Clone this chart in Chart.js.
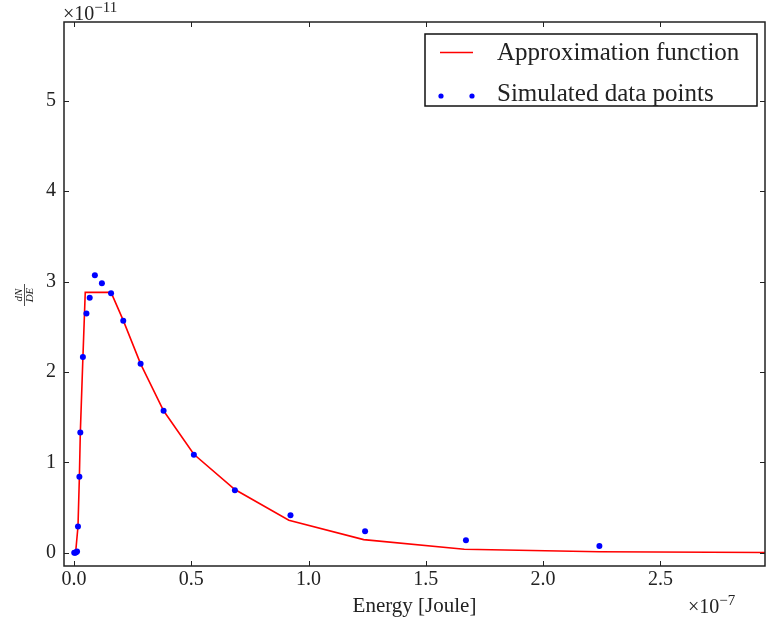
<!DOCTYPE html>
<html>
<head>
<meta charset="utf-8">
<title>Energy spectrum</title>
<script src="https://cdn.jsdelivr.net/npm/chart.js@4/dist/chart.umd.min.js"></script>
<style>
    html, body { margin: 0; padding: 0; background: #fff; }
    #wrap { width: 766px; height: 623px; position: relative; }
</style>
</head>
<body>
<div id="wrap"><canvas id="chart"></canvas></div>
<script>
// energy in units of 1e-7 J, dN/dE in units of 1e-11
const fitEnergy = [0.000, 0.007, 0.017, 0.023, 0.027, 0.038, 0.048, 0.158, 0.210, 0.284, 0.382, 0.511, 0.686, 0.916, 1.235, 1.664, 2.240, 2.950];
const fitValues = [0.000, 0.005, 0.290, 0.840, 1.330, 2.160, 2.880, 2.880, 2.570, 2.090, 1.570, 1.090, 0.700, 0.360, 0.146, 0.040, 0.012, 0.003];

const simEnergy = [0.001, 0.005, 0.009, 0.013, 0.017, 0.023, 0.027, 0.038, 0.053, 0.067, 0.089, 0.119, 0.158, 0.210, 0.284, 0.382, 0.511, 0.686, 0.923, 1.241, 1.671, 2.240];
const simValues = [0.000, 0.000, 0.005, 0.015, 0.290, 0.840, 1.330, 2.165, 2.645, 2.820, 3.070, 2.980, 2.870, 2.567, 2.090, 1.570, 1.083, 0.692, 0.415, 0.238, 0.138, 0.075];

const xTicks = [0.0, 0.5, 1.0, 1.5, 2.0, 2.5];
const yTicks = [0, 1, 2, 3, 4, 5];

const SERIF = "'Liberation Serif', 'DejaVu Serif', serif";
const INK = '#222';

function toPoints(xs, ys) {
    return xs.map((x, i) => ({ x, y: ys[i] }));
}

// writes "×10" followed by a raised exponent
function drawOffset(ctx, x, y, exp) {
    ctx.font = '20px ' + SERIF;
    ctx.fillText('×10', x, y);
    const w = ctx.measureText('×10').width;
    ctx.font = '15px ' + SERIF;
    ctx.fillText(exp, x + w, y - 8);
}

// frame on all four sides, inward ticks, offset labels, fraction y label, legend box
const decorations = {
    id: 'decorations',
    afterDraw(chart) {
        const { ctx, chartArea: a, scales } = chart;
        const xs = scales.x, ys = scales.y;
        const tick = 5;
        ctx.save();
        ctx.strokeStyle = INK;
        ctx.lineWidth = 1.5;
        ctx.strokeRect(a.left, a.top, a.right - a.left, a.bottom - a.top);

        ctx.lineWidth = 1;
        ctx.beginPath();
        xTicks.forEach(v => {
            const px = Math.round(xs.getPixelForValue(v)) + 0.5;
            ctx.moveTo(px, a.bottom); ctx.lineTo(px, a.bottom - tick);
            ctx.moveTo(px, a.top); ctx.lineTo(px, a.top + tick);
        });
        yTicks.forEach(v => {
            const py = Math.round(ys.getPixelForValue(v)) + 0.5;
            ctx.moveTo(a.left, py); ctx.lineTo(a.left + tick, py);
            ctx.moveTo(a.right, py); ctx.lineTo(a.right - tick, py);
        });
        ctx.stroke();

        ctx.fillStyle = INK;
        ctx.textBaseline = 'alphabetic';
        ctx.textAlign = 'left';
        drawOffset(ctx, a.left - 1, 20, '−11');
        drawOffset(ctx, 688, 613, '−7');

        // dN/DE as a rotated fraction
        ctx.save();
        ctx.translate(24, 295);
        ctx.rotate(-Math.PI / 2);
        ctx.font = 'italic 11px ' + SERIF;
        ctx.textAlign = 'center';
        ctx.textBaseline = 'middle';
        ctx.fillText('dN', 0, -5);
        ctx.fillText('DE', 0, 6);
        ctx.lineWidth = 0.8;
        ctx.beginPath();
        ctx.moveTo(-11, 0.5); ctx.lineTo(11, 0.5);
        ctx.stroke();
        ctx.restore();

        // legend
        const box = { left: 425, top: 34, right: 757, bottom: 106 };
        ctx.fillStyle = '#fff';
        ctx.fillRect(box.left, box.top, box.right - box.left, box.bottom - box.top);
        ctx.strokeStyle = '#111';
        ctx.lineWidth = 1.5;
        ctx.strokeRect(box.left, box.top, box.right - box.left, box.bottom - box.top);

        const [fitSet, simSet] = chart.data.datasets;
        ctx.strokeStyle = fitSet.borderColor;
        ctx.lineWidth = 1.5;
        ctx.beginPath();
        ctx.moveTo(440, 52.5); ctx.lineTo(473, 52.5);
        ctx.stroke();

        ctx.fillStyle = simSet.backgroundColor;
        [441, 472].forEach(cx => {
            ctx.beginPath();
            ctx.arc(cx, 96, 2.6, 0, Math.PI * 2);
            ctx.fill();
        });

        ctx.fillStyle = INK;
        ctx.font = '25px ' + SERIF;
        ctx.textAlign = 'left';
        ctx.textBaseline = 'middle';
        ctx.fillText(fitSet.label, 497, 53);
        ctx.fillText(simSet.label, 497, 94);
        ctx.restore();
    }
};

const ctx = document.getElementById('chart').getContext('2d');
new Chart(ctx, {
    type: 'scatter',
    data: {
        datasets: [
            {
                label: 'Approximation function',
                data: toPoints(fitEnergy, fitValues),
                showLine: true,
                borderColor: '#ff0000',
                backgroundColor: '#ff0000',
                borderWidth: 1.6,
                pointRadius: 0,
                tension: 0,
                order: 1
            },
            {
                label: 'Simulated data points',
                data: toPoints(simEnergy, simValues),
                showLine: false,
                borderColor: '#0000ff',
                backgroundColor: '#0000ff',
                borderWidth: 0,
                pointRadius: 3,
                order: 0
            }
        ]
    },
    options: {
        responsive: true,
        maintainAspectRatio: false,
        animation: false,
        layout: { autoPadding: false, padding: { left: 0, right: 1, top: 22, bottom: 0 } },
        plugins: {
            legend: { display: false },
            tooltip: { enabled: false }
        },
        scales: {
            x: {
                type: 'linear',
                min: -0.0426,
                max: 2.946,
                afterBuildTicks: s => { s.ticks = xTicks.map(v => ({ value: v })); },
                afterFit: s => { s.height = 57; s.paddingLeft = 0; s.paddingRight = 0; },
                grid: { display: false, drawTicks: false },
                border: { display: false },
                ticks: {
                    color: INK,
                    font: { family: SERIF, size: 20 },
                    padding: 2,
                    maxRotation: 0,
                    callback: v => v.toFixed(1)
                },
                title: {
                    display: true,
                    text: 'Energy [Joule]',
                    color: INK,
                    font: { family: SERIF, size: 21 },
                    padding: { top: 0, bottom: 4 }
                }
            },
            y: {
                type: 'linear',
                min: -0.146,
                max: 5.87,
                afterBuildTicks: s => { s.ticks = yTicks.map(v => ({ value: v })); },
                afterFit: s => { s.width = 64; s.paddingTop = 0; s.paddingBottom = 0; },
                grid: { display: false, drawTicks: false },
                border: { display: false },
                ticks: {
                    color: INK,
                    font: { family: SERIF, size: 20 },
                    padding: 8,
                    callback: v => String(v)
                }
            }
        }
    },
    plugins: [decorations]
});
</script>
</body>
</html>
